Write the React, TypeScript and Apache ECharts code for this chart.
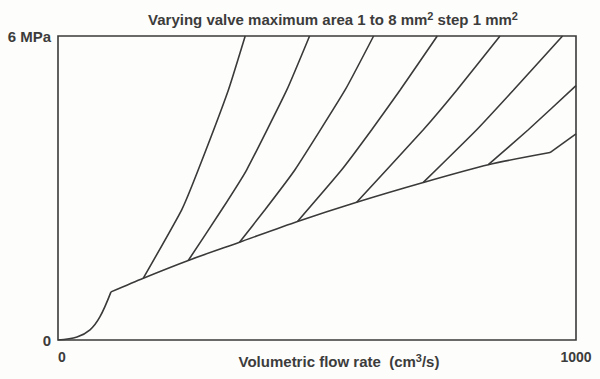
import React, { useEffect, useRef } from "react";
import * as echarts from "echarts";

const X_TICKS = [0, 1000];
const Y_TICKS = [0, 6];
const TITLE = "Varying valve maximum area 1 to 8 mm{s|2} step 1 mm{s|2}";
const X_NAME = "Volumetric flow rate  (cm{s|3}/s)";

// base curve (opening region, then the envelope to area 8)
const baseLow: number[][] = [[0, 0], [36.7, 0.06], [61.8, 0.2], [81.1, 0.46], [102.3, 0.95]];
const baseHigh: number[][] = [
  [102.3, 0.95], [164.7, 1.22], [251.5, 1.57], [350.4, 1.93], [462.4, 2.34],
  [576.6, 2.72], [705.2, 3.11], [830.7, 3.46], [949.8, 3.7],
];

// branches for valve area 1..8 mm2
const area1: number[][] = [[164.7, 1.22], [238.8, 2.57], [270.8, 3.36], [328.8, 4.93], [361.4, 6]];
const area2: number[][] = [[251.5, 1.57], [316.0, 2.57], [364.3, 3.36], [441.5, 4.93], [485.7, 6]];
const area3: number[][] = [[350.4, 1.93], [399.6, 2.57], [457.5, 3.36], [554.0, 4.93], [609.3, 6]];
const area4: number[][] = [[462.4, 2.34], [547.7, 3.36], [605.6, 4.15], [660.2, 4.93], [732.2, 6]];
const area5: number[][] = [[576.6, 2.72], [705.2, 4.15], [769.7, 4.93], [853.3, 6]];
const area6: number[][] = [[705.2, 3.11], [808.3, 4.15], [879.0, 4.93], [974.0, 6]];
const area7: number[][] = [[830.7, 3.46], [907.9, 4.15], [1000, 5.02]];
const area8: number[][] = [[949.8, 3.7], [1000, 4.07]];

const curveLabels = ["1", "8"];
const curveLabelAt: number[][] = [[316, 5.68], [951, 3.47]];

const LINE = "#3a3a3a";
const TEXT = "#3c3c3c";
const FONT = "'Liberation Sans', Arial, sans-serif";

export default function App() {
  const ref = useRef<HTMLDivElement>(null);
  useEffect(() => {
    if (!ref.current) return;
    const chart = echarts.init(ref.current, undefined, { renderer: "svg" });
    const lineSeries = (data: number[][], smooth: number) => ({
      type: "line",
      data,
      smooth,
      showSymbol: false,
      symbol: "none",
      lineStyle: { color: LINE, width: 1.6 },
      silent: true,
    });
    const branches = [area1, area2, area3, area4, area5, area6, area7, area8];
    chart.setOption({
      animation: false,
      backgroundColor: "#fdfdfb",
      grid: { left: 58, right: 24, top: 36, bottom: 39, show: true, borderColor: LINE, borderWidth: 1.6, backgroundColor: "transparent" },
      xAxis: {
        type: "value",
        min: X_TICKS[0],
        max: X_TICKS[1],
        interval: X_TICKS[1] - X_TICKS[0],
        axisLine: { show: false },
        axisTick: { show: false },
        splitLine: { show: false },
        axisLabel: {
          color: TEXT, fontWeight: "bold", fontSize: 14, fontFamily: FONT, margin: 10, alignMinLabel: "left",
          formatter: (v: number) => String(v),
        },
      },
      yAxis: {
        type: "value",
        min: Y_TICKS[0],
        max: Y_TICKS[1],
        interval: Y_TICKS[1] - Y_TICKS[0],
        axisLine: { show: false },
        axisTick: { show: false },
        splitLine: { show: false },
        axisLabel: {
          color: TEXT, fontWeight: "bold", fontSize: 15, fontFamily: FONT, margin: 7,
          formatter: (v: number) => (v === Y_TICKS[1] ? `${v} MPa` : `${v}`),
        },
      },
      series: [
        lineSeries(baseLow, 0.35),
        lineSeries(baseHigh, 0.25),
        ...branches.map((b) => lineSeries(b, 0.15)),
        {
          type: "scatter",
          data: curveLabelAt.map((p, i) => ({ value: p, name: curveLabels[i] })),
          symbolSize: 1,
          itemStyle: { opacity: 0 },
          silent: true,
          label: {
            show: true,
            position: "inside",
            formatter: (p: any) => p.name,
            color: TEXT,
            fontWeight: "bold",
            fontSize: 14,
            fontFamily: FONT,
          },
        },
      ],
      graphic: [
        {
          type: "text",
          x: 333,
          y: 19,
          style: {
            text: TITLE,
            fill: TEXT,
            font: `bold 15px ${FONT}`,
            align: "center",
            verticalAlign: "middle",
            rich: { s: { fontSize: 11, fontWeight: "bold", fill: TEXT, fontFamily: FONT, padding: [0, 0, 7, 0] } },
          },
        },
        {
          type: "text",
          x: 339,
          y: 361,
          style: {
            text: X_NAME,
            fill: TEXT,
            font: `bold 15px ${FONT}`,
            align: "center",
            verticalAlign: "middle",
            rich: { s: { fontSize: 11, fontWeight: "bold", fill: TEXT, fontFamily: FONT, padding: [0, 0, 7, 0] } },
          },
        },
      ],
    });
    return () => chart.dispose();
  }, []);
  return <div ref={ref} style={{ width: 600, height: 379, position: "absolute", left: 0, top: 0 }} />;
}
